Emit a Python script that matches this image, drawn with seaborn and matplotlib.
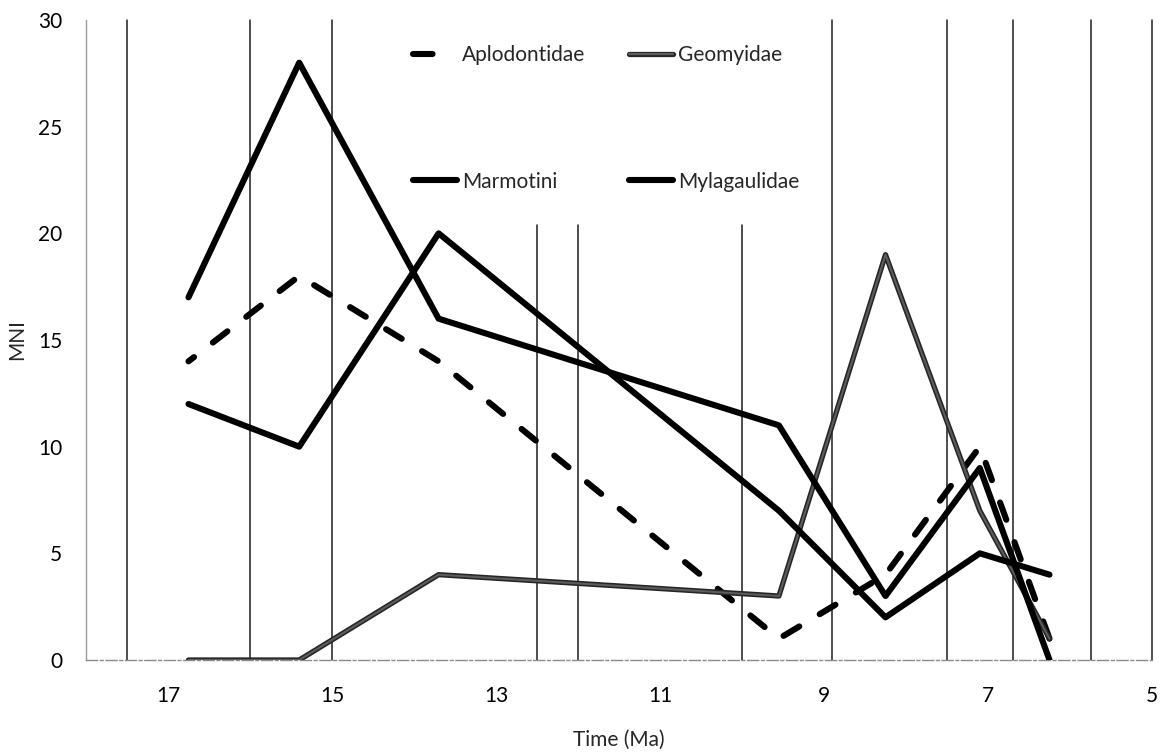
import matplotlib
matplotlib.use("Agg")
import matplotlib.pyplot as plt
import matplotlib.patheffects as pe
from matplotlib.lines import Line2D
import numpy as np
import pandas as pd
import seaborn as sns

# Sample ages (Ma) shared by all families
ages = [16.75, 15.4, 13.7, 9.55, 8.25, 7.1, 6.25]

# Minimum number of individuals per family
aplodontidae = [14, 18, 14, 1, 4, 10, 1]
geomyidae = [0, 0, 4, 3, 19, 7, 1]
marmotini = [17, 28, 16, 11, 3, 9, 0]
mylagaulidae = [12, 10, 20, 7, 2, 5, 4]

# Interval boundaries (Ma) and how high each boundary line reaches
boundaries = [17.5, 16.0, 15.0, 12.5, 12.0, 10.0, 8.9, 7.5, 6.7, 5.75, 5.0]
boundary_tops = [30, 30, 30, 20.4, 20.4, 20.4, 30, 30, 30, 30, 30]

x_ticks = [17, 15, 13, 11, 9, 7, 5]
y_ticks = [0, 5, 10, 15, 20, 25, 30]

FS = 15

sns.set_theme(style="white")
plt.rcParams["font.family"] = ["Lato", "DejaVu Sans"]

df = pd.DataFrame({
    "Time (Ma)": ages * 4,
    "MNI": aplodontidae + geomyidae + marmotini + mylagaulidae,
    "family": (["Aplodontidae"] * len(ages) + ["Geomyidae"] * len(ages)
               + ["Marmotini"] * len(ages) + ["Mylagaulidae"] * len(ages)),
})

fig = plt.figure(figsize=(11.68, 7.56), dpi=100)
ax = fig.add_axes([86 / 1168, 96 / 756, (1152 - 86) / 1168, (660 - 20) / 756])

# Boundary lines
for b, top in zip(boundaries, boundary_tops):
    ax.plot([b, b], [0, top], color="#1e1e1e", lw=1.1, zorder=1, clip_on=False)

geo_effects = [pe.Stroke(linewidth=3.8, foreground="#262626"), pe.Normal()]

styles = {
    "Aplodontidae": dict(color="black", lw=4.4, linestyle=(0, (3.0, 3.9)),
                         dash_capstyle="round", solid_capstyle="round"),
    "Geomyidae": dict(color="#5c5c5c", lw=1.5, solid_capstyle="round",
                      path_effects=geo_effects),
    "Marmotini": dict(color="black", lw=4.4, solid_capstyle="round"),
    "Mylagaulidae": dict(color="black", lw=4.4, solid_capstyle="round"),
}

for fam, kw in styles.items():
    sub = df[df["family"] == fam]
    sns.lineplot(data=sub, x="Time (Ma)", y="MNI", ax=ax, zorder=3, **kw)

ax.set_xlim(18, 5)
ax.set_ylim(0, 30)
ax.set_xticks(x_ticks)
ax.set_yticks(y_ticks)
ax.tick_params(axis="both", length=0, labelsize=FS, colors="black")
ax.tick_params(axis="x", pad=19)
ax.tick_params(axis="y", pad=17)

ax.set_xlabel("Time (Ma)", fontsize=FS, labelpad=17)
ax.set_ylabel("MNI", fontsize=FS, labelpad=8)

for side in ["top", "right"]:
    ax.spines[side].set_visible(False)
ax.spines["left"].set_color("#9a9a9a")
ax.spines["left"].set_linestyle((0, (1, 1)))
ax.spines["left"].set_linewidth(1.0)
ax.spines["bottom"].set_color("#8a8a8a")
ax.spines["bottom"].set_linestyle((0, (8, 2, 2, 2)))
ax.spines["bottom"].set_linewidth(1.0)

# Legend handles, ordered so rows read Aplodontidae/Geomyidae, Marmotini/Mylagaulidae
h_aplo = Line2D([], [], color="black", lw=4.4, linestyle=(0, (3.2, 8)),
                dash_capstyle="round")
h_geo = Line2D([], [], color="#5c5c5c", lw=1.5, solid_capstyle="round",
               path_effects=geo_effects)
h_marm = Line2D([], [], color="black", lw=4.4, solid_capstyle="round")
h_myl = Line2D([], [], color="black", lw=4.4, solid_capstyle="round")

leg = ax.legend([h_aplo, h_marm, h_geo, h_myl],
                ["Aplodontidae", "Marmotini", "Geomyidae", "Mylagaulidae"],
                ncol=2, frameon=False, fontsize=FS,
                loc="upper left", bbox_to_anchor=(405 / 1168, 1 - 37 / 756),
                bbox_transform=fig.transFigure,
                handlelength=2.1, handletextpad=0.25, columnspacing=2.1,
                labelspacing=5.1, borderaxespad=0)

fig.savefig("out.png", dpi=100, facecolor="white")
